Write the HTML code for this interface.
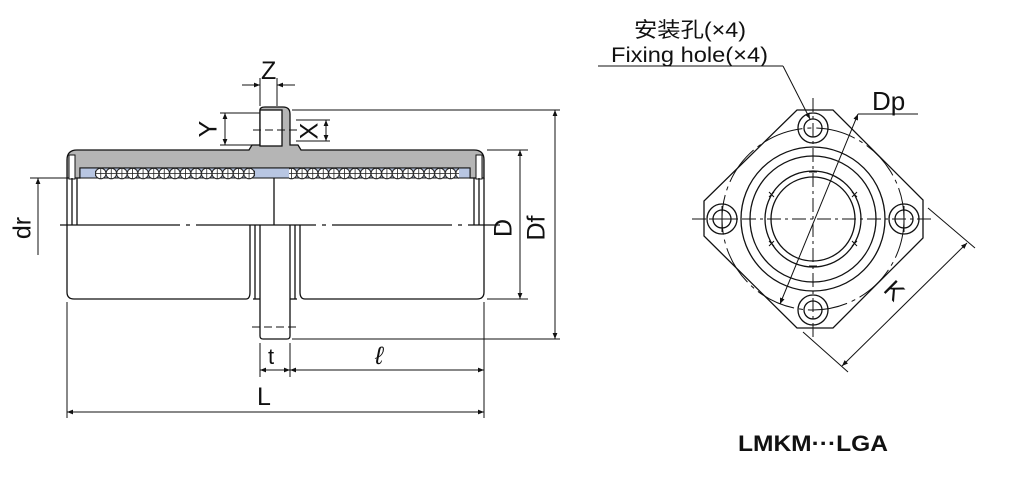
<!DOCTYPE html>
<html><head><meta charset="utf-8"><style>
html,body{margin:0;padding:0;background:#fff;}
svg{display:block;}
text{font-family:"Liberation Sans","Noto Sans CJK SC",sans-serif;fill:#111;}
</style></head><body>
<svg width="1009" height="490" viewBox="0 0 1009 490" xmlns="http://www.w3.org/2000/svg">
<defs>
<marker id="a" viewBox="0 0 10 10" refX="10" refY="5" markerWidth="8" markerHeight="6" orient="auto-start-reverse" markerUnits="userSpaceOnUse"><path d="M0,1 L10,5 L0,9 z" fill="#111"/></marker>
<pattern id="balls" x="0" y="167" width="10.6" height="13" patternUnits="userSpaceOnUse">
<circle cx="5.3" cy="6.5" r="5.3" fill="#fff" stroke="#222" stroke-width="1"/>
<line x1="0" y1="6.5" x2="10.6" y2="6.5" stroke="#222" stroke-width="0.8"/>
<line x1="5.3" y1="1.2" x2="5.3" y2="11.8" stroke="#222" stroke-width="0.8"/>
</pattern>
</defs>
<g stroke="#111" stroke-width="1.3" fill="none">
<path d="M67,160 Q67,150 77,150 L249,150 L252,145 L260,145 L260,110 Q260,107 265,107 L283,107 Q290,107 290,114 L290,145 L298,145 L301,150 L474,150 Q484,150 484,160 L484,178 L470,178 L470,168 L80,168 L80,178 L67,178 Z" fill="#b5b5b5"/>
<rect x="260" y="110" width="22" height="36" fill="#fff"/>
<rect x="80" y="168" width="390" height="10" fill="#b8c6e2" stroke-width="1"/>
<rect x="95" y="167" width="160" height="13" fill="url(#balls)" stroke="none"/>
<rect x="289" y="167" width="170" height="13" fill="url(#balls)" stroke="none"/>
<rect x="69" y="155" width="6" height="24" fill="#fff" stroke-width="1"/>
<rect x="476" y="155" width="6" height="24" fill="#fff" stroke-width="1"/>
<line x1="67" y1="178" x2="67" y2="225"/><line x1="72" y1="178" x2="72" y2="225"/><line x1="77" y1="178" x2="77" y2="225"/>
<line x1="484" y1="178" x2="484" y2="225"/><line x1="479" y1="178" x2="479" y2="225"/><line x1="474" y1="178" x2="474" y2="225"/>
<line x1="274" y1="178" x2="274" y2="225"/>
<path d="M67,225 L67,292 Q67,299 74,299 L246,299 Q250,299 250,292 L250,225"/>
<path d="M484,225 L484,292 Q484,299 477,299 L305,299 Q300,299 300,292 L300,225"/>
<line x1="255" y1="225" x2="255" y2="299"/><line x1="295" y1="225" x2="295" y2="299"/>
<path d="M260,225 L260,336 Q260,339 263,339 L287,339 Q290,339 290,336 L290,225"/>
<line x1="253" y1="299" x2="260" y2="299"/><line x1="290" y1="299" x2="297" y2="299"/>
<line x1="60" y1="225" x2="500" y2="225" stroke-dasharray="120,6,4,6"/>
<line x1="252" y1="327" x2="298" y2="327" stroke-dasharray="8,4" stroke-width="1"/>
<line x1="253" y1="130" x2="297" y2="130" stroke-dasharray="8,4" stroke-width="1"/>
</g>
<g stroke="#111" stroke-width="1" fill="none">
<line x1="30" y1="178" x2="67" y2="178"/>
<line x1="38" y1="178" x2="38" y2="255" marker-start="url(#a)"/>
<line x1="60" y1="225" x2="67" y2="225"/>
<line x1="260" y1="78" x2="260" y2="106"/><line x1="277" y1="78" x2="277" y2="106"/>
<line x1="242" y1="85" x2="260" y2="85" marker-end="url(#a)"/><line x1="295" y1="85" x2="277" y2="85" marker-end="url(#a)"/>
<line x1="220" y1="113" x2="260" y2="113"/><line x1="220" y1="145" x2="258" y2="145"/>
<line x1="225" y1="113" x2="225" y2="145" marker-start="url(#a)" marker-end="url(#a)"/>
<line x1="292" y1="110" x2="560" y2="110"/>
<line x1="296" y1="120" x2="330" y2="120"/><line x1="296" y1="141" x2="330" y2="141"/>
<line x1="326" y1="120" x2="326" y2="141" marker-start="url(#a)" marker-end="url(#a)"/>
<line x1="487" y1="150" x2="528" y2="150"/><line x1="487" y1="299" x2="528" y2="299"/>
<line x1="520" y1="150" x2="520" y2="299" marker-start="url(#a)" marker-end="url(#a)"/>
<line x1="292" y1="339" x2="560" y2="339"/>
<line x1="555" y1="110" x2="555" y2="339" marker-start="url(#a)" marker-end="url(#a)"/>
<line x1="67" y1="302" x2="67" y2="418"/>
<line x1="484" y1="302" x2="484" y2="418"/>
<line x1="260" y1="343" x2="260" y2="377"/><line x1="290" y1="343" x2="290" y2="377"/>
<line x1="260" y1="370" x2="290" y2="370" marker-start="url(#a)" marker-end="url(#a)"/>
<line x1="290" y1="370" x2="484" y2="370" marker-start="url(#a)" marker-end="url(#a)"/>
<line x1="67" y1="412" x2="484" y2="412" marker-start="url(#a)" marker-end="url(#a)"/>
</g>
<g font-size="25">
<text x="261" y="79">Z</text>
<text x="210" y="129" transform="rotate(-90 210 129)" text-anchor="middle" dominant-baseline="middle">Y</text>
<text x="311" y="131" transform="rotate(-90 311 131)" text-anchor="middle" dominant-baseline="middle">X</text>
<text x="24" y="228" transform="rotate(-90 24 228)" text-anchor="middle" dominant-baseline="middle">dr</text>
<text x="505" y="228" transform="rotate(-90 505 228)" text-anchor="middle" dominant-baseline="middle">D</text>
<text x="538" y="228" transform="rotate(-90 538 228)" text-anchor="middle" dominant-baseline="middle">Df</text>
<text x="268" y="364" font-family="Liberation Serif" font-size="22">t</text>
<text x="375" y="364" font-family="Liberation Serif" font-style="italic" font-size="25">ℓ</text>
<text x="257" y="405">L</text>
</g>
<g stroke="#111" stroke-width="1.3" fill="none">
<polygon points="797,110 833,110 923,200 923,238 833,328 797,328 704,236 704,201"/>
<circle cx="813" cy="219" r="91" stroke-dasharray="40,5,4,5" stroke-width="1"/>
<circle cx="813" cy="219" r="72"/>
<circle cx="813" cy="219" r="63"/>
<circle cx="813" cy="219" r="48"/>
<circle cx="813" cy="219" r="42"/>
<circle cx="813" cy="128" r="15"/><circle cx="813" cy="128" r="9"/>
<circle cx="813" cy="310" r="15"/><circle cx="813" cy="310" r="9"/>
<circle cx="722" cy="219" r="15"/><circle cx="722" cy="219" r="9"/>
<circle cx="904" cy="219" r="15"/><circle cx="904" cy="219" r="9"/>
<g stroke-width="1">
<path d="M809,172 L817,172"/><path d="M809,266 L817,266"/>
<path d="M769,192 l5,5 m0,-5 l-5,5"/><path d="M852,192 l5,5 m0,-5 l-5,5"/>
<path d="M769,241 l5,5 m0,-5 l-5,5"/><path d="M852,241 l5,5 m0,-5 l-5,5"/>
</g>
<line x1="692" y1="219" x2="935" y2="219" stroke-dasharray="14,4,3,4" stroke-width="1"/>
<line x1="813" y1="98" x2="813" y2="340" stroke-dasharray="14,4,3,4" stroke-width="1"/>
<line x1="722" y1="206" x2="722" y2="232" stroke-width="1"/>
<line x1="904" y1="206" x2="904" y2="232" stroke-width="1"/>
<line x1="709" y1="219" x2="735" y2="219" stroke-width="1"/>
</g>
<g stroke="#111" stroke-width="1" fill="none">
<line x1="598" y1="66" x2="783" y2="66"/>
<line x1="783" y1="66" x2="810" y2="119" marker-end="url(#a)"/>
<line x1="918" y1="114" x2="858" y2="114"/>
<line x1="858" y1="114" x2="780" y2="304" marker-start="url(#a)" marker-end="url(#a)"/>
<line x1="928" y1="208" x2="975" y2="248"/>
<line x1="803" y1="332" x2="848" y2="372"/>
<line x1="967" y1="243" x2="842" y2="366" marker-start="url(#a)" marker-end="url(#a)"/>
</g>
<text x="634" y="37" font-size="21" textLength="112" lengthAdjust="spacingAndGlyphs">安装孔(×4)</text>
<text x="611" y="62" font-size="21" textLength="157" lengthAdjust="spacingAndGlyphs">Fixing hole(×4)</text>
<text x="872" y="110" font-size="26">Dp</text>
<text x="893" y="292" font-size="25" transform="rotate(45 893 292)" text-anchor="middle" dominant-baseline="middle">K</text>
<text x="738" y="451" font-size="22" font-weight="bold" textLength="150" lengthAdjust="spacingAndGlyphs">LMKM···LGA</text>
</svg>
</body></html>
